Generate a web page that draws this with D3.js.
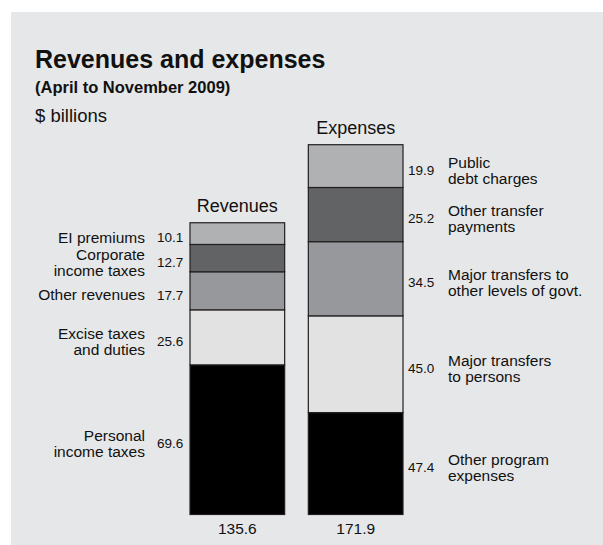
<!DOCTYPE html>
<html>
<head>
<meta charset="utf-8">
<script src="https://cdn.jsdelivr.net/npm/d3@7"></script>
<style>
  body { margin: 0; background: #fff; }
  svg { display: block; font-family: "Liberation Sans", Arial, sans-serif; }
</style>
</head>
<body>
<script>
// data, bottom segment first
var bars = ["Revenues", "Expenses"];
var totals = ["135.6", "171.9"];
var revLabels = [["Personal", "income taxes"], ["Excise taxes", "and duties"], ["Other revenues"], ["Corporate", "income taxes"], ["EI premiums"]];
var revValues = [69.6, 25.6, 17.7, 12.7, 10.1];
var expLabels = [["Other program", "expenses"], ["Major transfers", "to persons"], ["Major transfers to", "other levels of govt."], ["Other transfer", "payments"], ["Public", "debt charges"]];
var expValues = [47.4, 45.0, 34.5, 25.2, 19.9];
var shades = ["#000000", "#e2e2e3", "#97989b", "#626365", "#b0b1b3"];

var W = 603, H = 545;
var svg = d3.select("body").append("svg")
    .attr("width", W)
    .attr("height", H);

// grey panel
svg.append("rect")
    .attr("x", 11).attr("y", 12)
    .attr("width", W - 11).attr("height", H - 12)
    .attr("fill", "#e6e7e8");

svg.append("text").attr("x", 35).attr("y", 68)
    .attr("font-size", 25).attr("font-weight", "bold").attr("fill", "#111")
    .text("Revenues and expenses");
svg.append("text").attr("x", 35).attr("y", 93)
    .attr("font-size", 16.5).attr("font-weight", "bold").attr("fill", "#111")
    .text("(April to November 2009)");
svg.append("text").attr("x", 35).attr("y", 121.5)
    .attr("font-size", 18.5).attr("fill", "#111")
    .text("$ billions");

var x = d3.scaleBand()
    .domain(bars)
    .range([190, 403])
    .paddingInner(0.2);

var y = d3.scaleLinear()
    .domain([0, 172])
    .range([514.5, 144.7]);

function stackUp(vals) {
  var acc = 0;
  return vals.map(function(v, i) {
    var d = {v: v, y0: acc, y1: acc + v, i: i};
    acc += v;
    return d;
  });
}

var series = [
  {name: "Revenues", segs: stackUp(revValues), labels: revLabels, side: "left"},
  {name: "Expenses", segs: stackUp(expValues), labels: expLabels, side: "right"}
];

series.forEach(function(s, k) {
  var g = svg.append("g");
  var bx = x(s.name), bw = x.bandwidth();

  g.selectAll("rect")
    .data(s.segs)
    .enter().append("rect")
      .attr("x", bx)
      .attr("width", bw)
      .attr("y", function(d) { return y(d.y1); })
      .attr("height", function(d) { return y(d.y0) - y(d.y1); })
      .attr("fill", function(d) { return shades[d.i]; })
      .attr("stroke", "#231f20")
      .attr("stroke-width", 1.2);

  var top = y(s.segs[s.segs.length - 1].y1);
  g.append("text")
    .attr("x", bx + bw / 2).attr("y", top - 11)
    .attr("text-anchor", "middle")
    .attr("font-size", 18).attr("fill", "#111")
    .text(s.name);

  g.append("text")
    .attr("x", bx + bw / 2).attr("y", 533.5)
    .attr("text-anchor", "middle")
    .attr("font-size", 15.5).attr("fill", "#111")
    .text(totals[k]);

  // values next to the bar
  g.selectAll(".val")
    .data(s.segs)
    .enter().append("text")
      .attr("class", "val")
      .attr("x", s.side == "left" ? bx - 33 : bx + bw + 5)
      .attr("y", function(d) { return (y(d.y0) + y(d.y1)) / 2 + 4; })
      .attr("dy", "0.35em")
      .attr("font-size", 13.5).attr("fill", "#111")
      .text(function(d) { return d.v.toFixed(1); });

  // category names
  g.selectAll(".lab")
    .data(s.segs)
    .enter().append("text")
      .attr("class", "lab")
      .attr("text-anchor", s.side == "left" ? "end" : "start")
      .attr("font-size", 15.5).attr("fill", "#111")
      .each(function(d) {
        var lines = s.labels[d.i];
        var mid = (y(d.y0) + y(d.y1)) / 2 + 4;
        var t = d3.select(this);
        lines.forEach(function(l, j) {
          t.append("tspan")
            .attr("x", s.side == "left" ? bx - 45 : bx + bw + 45)
            .attr("y", mid + (j - (lines.length - 1) / 2) * 16)
            .attr("dy", "0.35em")
            .text(l);
        });
      });
});
</script>
</body>
</html>
